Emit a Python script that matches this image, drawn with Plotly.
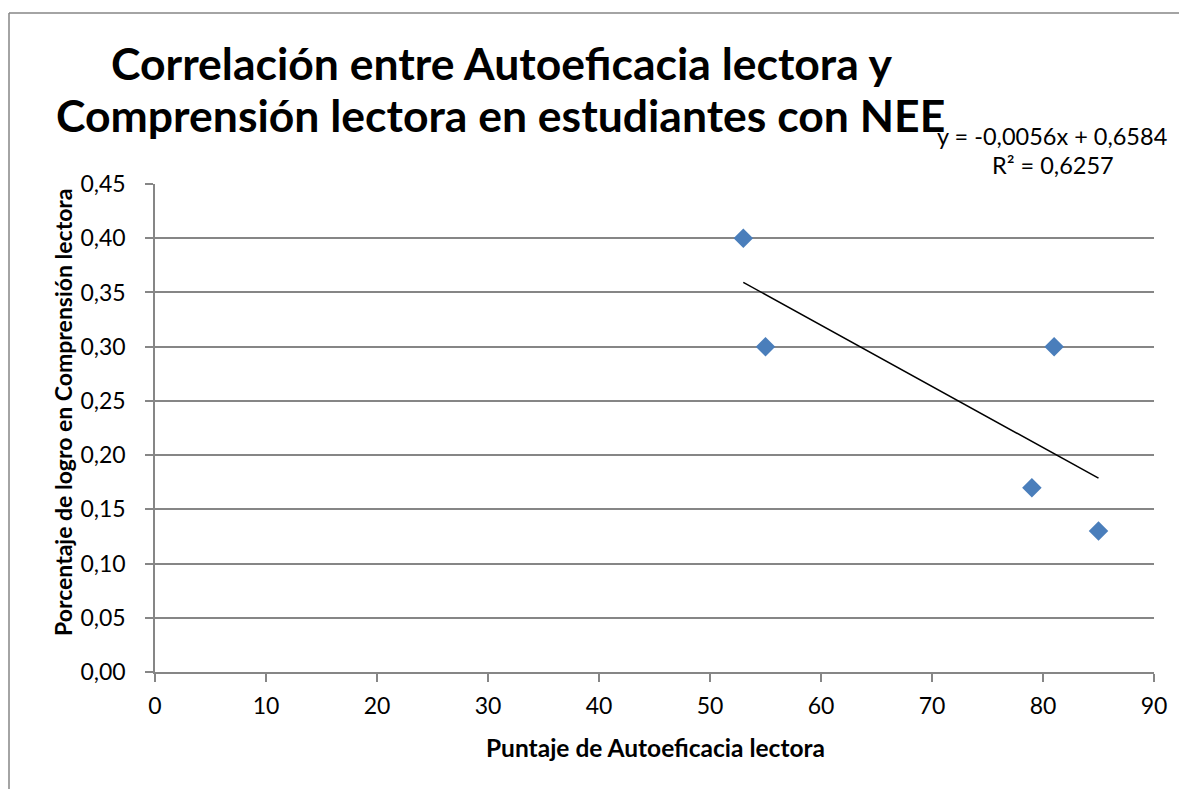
import numpy as np
import plotly.graph_objects as go

# puntaje de autoeficacia lectora vs porcentaje de logro en comprension lectora
autoeficacia = [53, 55, 81, 79, 85]
logro = [0.40, 0.30, 0.30, 0.17, 0.13]

x_ticks = list(range(0, 91, 10))
y_ticks = [round(0.05 * i, 2) for i in range(10)]

title_lines = [
    "Correlación entre Autoeficacia lectora y",
    "Comprensión lectora en estudiantes con NEE",
]
x_title = "Puntaje de Autoeficacia lectora"
y_title = "Porcentaje de logro en Comprensión lectora"

# the page puts the figure 8px in from the top-left corner
OFF = 8
W, H = 1187 - OFF, 789 - OFF
L, T = 155 - OFF, 184 - OFF
pw, ph = 999, 488
R, B = W - L - pw, H - T - ph

FONT = "Lato"
GRAY = "#868686"

# linear trendline (least squares)
slope, intercept = np.polyfit(autoeficacia, logro, 1)
pred = np.polyval([slope, intercept], autoeficacia)
resid = np.array(logro) - pred
r2 = 1 - np.sum(resid ** 2) / np.sum((np.array(logro) - np.mean(logro)) ** 2)
trend_x = [min(autoeficacia), max(autoeficacia)]
trend_y = [slope * v + intercept for v in trend_x]


def fmt(v):
    return f"{v:.4f}".replace(".", ",")


def px(xpage):
    return (xpage - OFF - L) / pw


def py(ypage):
    return (H - B - (ypage - OFF)) / ph


fig = go.Figure()
fig.add_trace(go.Scatter(
    x=autoeficacia, y=logro, mode="markers",
    marker=dict(symbol="diamond", size=15, color="#4A7EBB", line=dict(width=0)),
    showlegend=False, cliponaxis=False,
))
fig.add_trace(go.Scatter(
    x=trend_x, y=trend_y, mode="lines",
    line=dict(color="black", width=1.5),
    showlegend=False,
))

# chart outer border (top and left edges are the only ones inside the view)
fig.add_shape(type="line", xref="paper", yref="paper",
              x0=px(9), x1=px(1187), y0=py(13), y1=py(13),
              line=dict(color=GRAY, width=1.5), layer="below")
fig.add_shape(type="line", xref="paper", yref="paper",
              x0=px(9), x1=px(9), y0=py(13), y1=py(789),
              line=dict(color=GRAY, width=1.5), layer="below")


def label(text, xp, yp, size, bold=False, angle=0):
    fig.add_annotation(
        xref="paper", yref="paper", x=px(xp), y=py(yp),
        xanchor="center", yanchor="middle", textangle=angle,
        text=f"<b>{text}</b>" if bold else text, showarrow=False,
        font=dict(family=FONT, size=size, color="black"),
    )


label(title_lines[0], 501, 63, 44.5, bold=True)
label(title_lines[1], 500, 114, 44.5, bold=True)
label(f"y = {fmt(slope)}x + {fmt(intercept)}", 1052, 136, 23.5)
label(f"R² = {fmt(r2)}", 1053, 165, 23.5)
label(x_title, 655, 747, 24.5, bold=True)
label(y_title, 63, 413, 23, bold=True, angle=-90)

fig.update_layout(
    width=W, height=H,
    margin=dict(l=L, r=R, t=T, b=B),
    paper_bgcolor="white", plot_bgcolor="white",
    separators=",.",
    font=dict(family=FONT, size=23, color="black"),
    xaxis=dict(
        range=[0, 90], tickvals=x_ticks, showgrid=False, zeroline=False,
        showline=True, linecolor=GRAY, linewidth=1.5,
        ticks="outside", ticklen=8, tickcolor=GRAY, tickwidth=1.5,
        ticklabelstandoff=5,
    ),
    yaxis=dict(
        range=[0, 0.45], tickvals=y_ticks, tickformat=".2f",
        showgrid=True, gridcolor=GRAY, gridwidth=1.5, zeroline=False,
        showline=True, linecolor=GRAY, linewidth=1.5,
        ticks="outside", ticklen=8, tickcolor=GRAY, tickwidth=1.5,
        ticklabelstandoff=15,
    ),
)

fig.write_html("out.html")
